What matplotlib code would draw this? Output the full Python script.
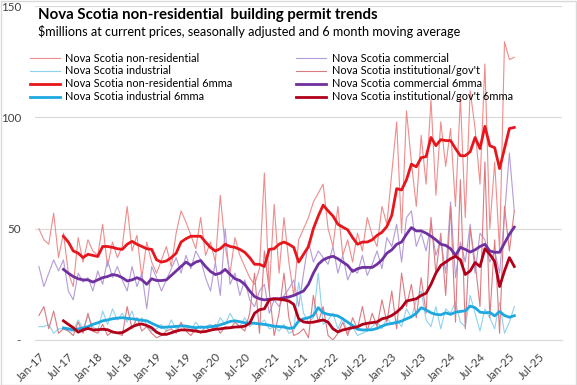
import numpy as np
import matplotlib
matplotlib.use("Agg")
from matplotlib import pyplot as plt
from matplotlib.lines import Line2D

plt.rcParams['font.family'] = ['Lato', 'DejaVu Sans']

# monthly, Jan-2017 .. Feb-2025
nonres = [50, 45, 43, 57, 37, 48, 30, 24, 46, 35, 45, 40,
          38, 52, 33, 44, 37, 42, 60, 40, 47, 28, 44, 35,
          30, 36, 42, 33, 48, 58, 53, 47, 41, 55, 38, 44,
          35, 65, 42, 30, 46, 38, 33, 28, 25, 32, 75, 22,
          61, 30, 55, 35, 20, 45, 50, 55, 62, 66, 70, 50,
          42, 60, 38, 45, 35, 48, 40, 55, 47, 42, 60, 52,
          75, 98, 48, 103, 80, 60, 92, 70, 108, 65, 98, 78,
          95, 60, 109, 55, 112, 95, 70, 124, 50, 80, 40, 134,
          126, 127]
commercial = [33, 24, 30, 36, 31, 36, 22, 18, 30, 26, 28, 22,
              31, 25, 36, 28, 33, 27, 22, 33, 24, 30, 14, 33,
              28, 22, 27, 32, 37, 30, 38, 32, 40, 36, 28, 22,
              35, 20, 50, 25, 30, 20, 27, 18, 15, 22, 25, 12,
              18, 15, 20, 23, 27, 15, 30, 44, 35, 40, 37, 34,
              42, 30, 38, 27, 32, 30, 38, 29, 34, 40, 32, 46,
              42, 52, 35, 55, 58, 42, 48, 40, 52, 38, 45, 30,
              62, 28, 44, 35, 52, 30, 48, 45, 35, 40, 30, 56,
              84, 58]
industrial = [6, 6, 7, 3, 5, 5, 4, 4, 9, 5, 11, 6,
              4, 13, 7, 14, 9, 12, 8, 13, 6, 10, 7, 4,
              5, 7, 4, 9, 5, 7, 6, 4, 8, 5, 6, 7,
              5, 10, 7, 12, 8, 6, 10, 6, 8, 7, 9, 5,
              6, 4, 7, 3, 4, 26, 12, 8, 10, 30, 7, 9,
              12, 5, 10, 3, 6, 2, 3, 4, 6, 8, 5, 10,
              7, 9, 6, 14, 10, 18, 22, 9, 6, 15, 5, 14,
              12, 17, 8, 6, 20, 12, 4, 14, 10, 5, 17, 3,
              8, 15]
institutional = [11, 15, 5, 13, 3, 5, 4, 2, 8, 3, 12, 4,
                 3, 7, 2, 4, 3, 2, 15, 5, 10, 4, 6, 3,
                 1, 2, 4, 5, 3, 8, 4, 2, 5, 3, 6, 4,
                 7, 3, 6, 5, 8, 6, 4, 12, 30, 3, 40, 22,
                 2, 12, 30, 10, 2, 3, 5, 1, 20, 8, 15, 2,
                 0, 3, 8, 2, 10, 5, 15, 4, 12, 6, 18, 8,
                 22, 5, 30, 15, 25, 10, 28, 12, 55, 30, 48, 20,
                 60, 8, 72, 5, 50, 35, 15, 80, 10, 45, 3, 60,
                 40, 58]

# 6 month moving averages, first value at Jun-2017
nonres_6mma = [46.6, 44, 40, 39, 37, 38.5, 38, 37.5, 42, 42, 41.6, 41,
               40.7, 43, 44.3, 43, 42, 41, 40.7, 36, 35, 35.5, 37, 39,
               44, 45.5, 46.6, 46.6, 46.6, 44, 41.6, 40, 41, 43, 42, 41.6,
               40.7, 39.4, 37, 34, 34, 33, 40.7, 41, 43, 44, 43, 41.6,
               35, 38.5, 42, 50, 55.7, 60.6, 58, 55.7, 52, 50.7, 49.5, 46,
               43, 44, 44, 45, 47, 48.4, 51, 56, 68, 67.4, 72, 79,
               77.8, 81.9, 82.4, 91, 87.3, 90, 89.6, 89.6, 86, 82.8, 82.8, 84.6,
               91, 86, 96, 87.3, 86.4, 77, 86, 95, 95.5]
commercial_6mma = [31.7, 30, 28.5, 27.5, 27, 27, 26, 27, 28, 28.5, 29.4, 29,
                   28, 26.5, 27, 28, 27, 25, 27.5, 26.7, 26.7, 27, 29, 31,
                   33, 35, 33.5, 35, 35.7, 33, 30.8, 29.4, 30, 31.7, 29.5, 27.5,
                   26.7, 25, 22, 19.5, 18.5, 18, 18.3, 18.5, 18.5, 19, 19.3, 20,
                   21, 22, 25, 30, 34, 36, 37, 37.6, 36.5, 35, 33.5, 30.8,
                   32, 32.6, 32.6, 32.6, 34, 36, 39, 40.5, 43, 44, 47.5, 50.5,
                   49, 49, 48, 46.6, 45, 43, 42.5, 41, 38, 41.6, 40.7, 39.5,
                   40.5, 42, 43, 40, 39.4, 39.4, 43.5, 47.5, 50.7]
industrial_6mma = [5.4, 5, 4.5, 5, 5.4, 6, 7, 7.7, 8.6, 9, 9.5, 9.8,
                   10, 9.7, 9.5, 9.2, 8.8, 8.6, 7.5, 6.5, 5.6, 5.8, 5.9, 6.1,
                   6.3, 6.2, 5.8, 5.5, 5.8, 5.7, 6, 6.2, 6.8, 7.5, 8.3, 8.6,
                   8.2, 7.7, 7.6, 7.5, 7.2, 7, 6.6, 6.2, 6, 5.8, 5.2, 5.5,
                   8.5, 9.5, 10, 11, 14.5, 12.2, 11.5, 11.2, 10.8, 9.5, 8, 6.5,
                   4.8, 4.5, 4.5, 4.6, 5.2, 6.2, 7, 7.4, 7.8, 8.5, 9.5, 10.4,
                   12, 14.5, 13.5, 12.2, 11.5, 11.3, 12.2, 11.5, 12.5, 12.8, 13.1, 15.2,
                   14.5, 12.5, 12.2, 12.4, 10.8, 12.8, 11, 10.2, 10.9]
institutional_6mma = [8.6, 7, 5.5, 3.5, 4.5, 5.2, 4.5, 4.6, 4.8, 4.6, 3.6, 3.2,
                      3.3, 4.5, 5.9, 6.8, 7.2, 6.5, 5.5, 3.5, 2.5, 2.5, 3.2, 4,
                      4.5, 4.5, 4.3, 4, 3.6, 3.8, 4.4, 4.8, 5, 5.3, 5.5, 5.8,
                      5.9, 6.2, 7.5, 12, 13.6, 14, 18, 18.5, 18.3, 18, 17.5, 16,
                      9.5, 8.1, 7.8, 8, 8.5, 9, 8, 5, 3.6, 4.5, 5, 5.5,
                      5.9, 7, 7.5, 7.8, 8.1, 9.5, 10, 11, 12.5, 14.5, 17.5, 18,
                      18.5, 20, 21, 25, 30, 33.5, 35, 36.5, 37.6, 36, 29.4, 31,
                      34.8, 33, 41, 38.5, 35.3, 24, 31, 37, 33]

tick_labels = ['Jan-17', 'Jul-17', 'Jan-18', 'Jul-18', 'Jan-19', 'Jul-19',
               'Jan-20', 'Jul-20', 'Jan-21', 'Jul-21', 'Jan-22', 'Jul-22',
               'Jan-23', 'Jul-23', 'Jan-24', 'Jul-24', 'Jan-25', 'Jul-25']

months = np.arange(len(nonres))
months_ma = np.arange(5, 5 + len(nonres_6mma))

fig = plt.figure(figsize=(5.77, 3.85), dpi=100)
ax = fig.add_axes([0.0607, 0.117, 0.913, 0.867])

ax.plot(months, nonres, color='#F08C8C', lw=0.8)
ax.plot(months, commercial, color='#B49CD8', lw=0.8)
ax.plot(months, industrial, color='#8ED2F0', lw=0.8)
ax.plot(months, institutional, color='#DC7A82', lw=0.8)
ax.plot(months_ma, nonres_6mma, color='#E8161C', lw=2.0)
ax.plot(months_ma, commercial_6mma, color='#7030A0', lw=2.0)
ax.plot(months_ma, industrial_6mma, color='#1EA8E0', lw=2.0)
ax.plot(months_ma, institutional_6mma, color='#B0001A', lw=2.0)

ax.set_xlim(-0.8, 106.7)
ax.set_ylim(0, 150)
ax.set_yticks([0, 50, 100, 150])
ax.set_yticklabels(['-', '50', '100', '150'])
ax.set_xticks(np.arange(0, 6 * len(tick_labels), 6))
ax.set_xticklabels(tick_labels, rotation=45, ha='right', rotation_mode='anchor')
ax.tick_params(length=0, labelsize=8.4, colors='#404040')
ax.tick_params(axis='y', pad=10)
ax.tick_params(axis='x', pad=8)
ax.grid(axis='y', color='#D9D9D9', lw=0.8)
ax.set_axisbelow(True)
for s in ['left', 'right', 'top']:
    ax.spines[s].set_visible(False)
ax.spines['bottom'].set_color('#D9D9D9')

fig.text(0.066, 0.96, "Nova Scotia non-residential  building permit trends",
         fontsize=10.8, fontweight='bold', va='center')
fig.text(0.066, 0.917, "\\$millions at current prices, seasonally adjusted and 6 month moving average",
         fontsize=9.1, va='center')

handles = [
    Line2D([], [], color='#F08C8C', lw=0.8),
    Line2D([], [], color='#8ED2F0', lw=0.8),
    Line2D([], [], color='#E8161C', lw=2.0),
    Line2D([], [], color='#1EA8E0', lw=2.0),
    Line2D([], [], color='#B49CD8', lw=0.8),
    Line2D([], [], color='#DC7A82', lw=0.8),
    Line2D([], [], color='#7030A0', lw=2.0),
    Line2D([], [], color='#B0001A', lw=2.0),
]
labels = ['Nova Scotia non-residential', 'Nova Scotia industrial',
          'Nova Scotia non-residential 6mma', 'Nova Scotia industrial 6mma',
          'Nova Scotia commercial', "Nova Scotia institutional/gov't",
          'Nova Scotia commercial 6mma', "Nova Scotia institutional/gov't 6mma"]
fig.legend(handles, labels, ncol=2, loc='upper left', bbox_to_anchor=(0.045, 0.875),
           frameon=False, fontsize=7.9, handlelength=2.7, handletextpad=0.5,
           columnspacing=5.8, labelspacing=0.18, borderaxespad=0)

fig.patches.append(plt.Rectangle((0.001, 0.001), 0.997, 0.997, transform=fig.transFigure,
                                 fill=False, edgecolor='#D9D9D9', lw=1))

fig.savefig('out.png', dpi=100)
